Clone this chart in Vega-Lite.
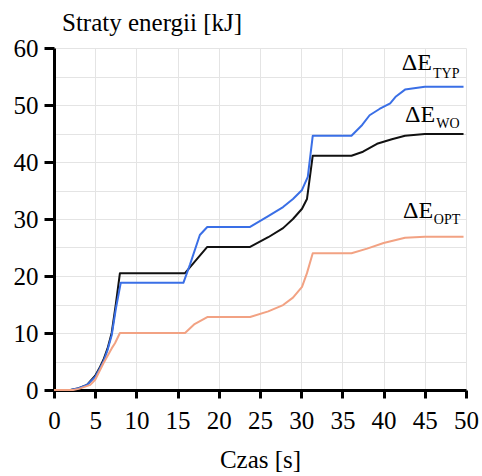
{
  "$schema": "https://vega.github.io/schema/vega-lite/v6.json",
  "width": 412,
  "height": 342,
  "autosize": "none",
  "padding": {"left": 54, "top": 48, "right": 16, "bottom": 86},
  "background": "white",
  "config": {"view": {"stroke": null}, "font": "Liberation Serif, Times New Roman, serif"},
  "title": {"text": "Straty energii [kJ]", "anchor": "start", "frame": "group", "font": "Liberation Serif, Times New Roman, serif", "fontSize": 25, "fontWeight": "normal", "color": "black", "dx": 8, "dy": 12, "offset": 12},
  "datasets": {
    "lines": [
      {"t": 0, "E": 0, "s": "WO"}, {"t": 2, "E": 0, "s": "WO"}, {"t": 3, "E": 0.3, "s": "WO"}, {"t": 4, "E": 0.9, "s": "WO"}, {"t": 5, "E": 2.5, "s": "WO"}, {"t": 5.5, "E": 3.8, "s": "WO"}, {"t": 6, "E": 5.3, "s": "WO"}, {"t": 6.5, "E": 7.3, "s": "WO"}, {"t": 7, "E": 10, "s": "WO"}, {"t": 7.5, "E": 15, "s": "WO"}, {"t": 8, "E": 20.5, "s": "WO"}, {"t": 15.9, "E": 20.5, "s": "WO"}, {"t": 18.6, "E": 25.1, "s": "WO"}, {"t": 23.8, "E": 25.1, "s": "WO"}, {"t": 26, "E": 26.8, "s": "WO"}, {"t": 27.8, "E": 28.4, "s": "WO"}, {"t": 29, "E": 30, "s": "WO"}, {"t": 30.1, "E": 31.8, "s": "WO"}, {"t": 30.7, "E": 33.5, "s": "WO"}, {"t": 31.4, "E": 41.1, "s": "WO"}, {"t": 36.1, "E": 41.1, "s": "WO"}, {"t": 37.5, "E": 41.8, "s": "WO"}, {"t": 39.2, "E": 43.2, "s": "WO"}, {"t": 41, "E": 44, "s": "WO"}, {"t": 42.6, "E": 44.6, "s": "WO"}, {"t": 45, "E": 44.9, "s": "WO"}, {"t": 49.7, "E": 44.9, "s": "WO"},
      {"t": 0, "E": 0, "s": "TYP"}, {"t": 2, "E": 0, "s": "TYP"}, {"t": 3, "E": 0.3, "s": "TYP"}, {"t": 4, "E": 0.9, "s": "TYP"}, {"t": 5, "E": 2.3, "s": "TYP"}, {"t": 5.5, "E": 3.6, "s": "TYP"}, {"t": 6, "E": 5.0, "s": "TYP"}, {"t": 6.5, "E": 7.0, "s": "TYP"}, {"t": 7, "E": 9.6, "s": "TYP"}, {"t": 7.5, "E": 14.2, "s": "TYP"}, {"t": 8.1, "E": 18.8, "s": "TYP"}, {"t": 15.7, "E": 18.8, "s": "TYP"}, {"t": 16.5, "E": 22, "s": "TYP"}, {"t": 17.7, "E": 27.2, "s": "TYP"}, {"t": 18.6, "E": 28.6, "s": "TYP"}, {"t": 23.8, "E": 28.6, "s": "TYP"}, {"t": 26, "E": 30.5, "s": "TYP"}, {"t": 27.8, "E": 32.1, "s": "TYP"}, {"t": 29, "E": 33.5, "s": "TYP"}, {"t": 30.1, "E": 35.1, "s": "TYP"}, {"t": 30.8, "E": 37.4, "s": "TYP"}, {"t": 31.4, "E": 44.6, "s": "TYP"}, {"t": 36.1, "E": 44.6, "s": "TYP"}, {"t": 37.4, "E": 46.5, "s": "TYP"}, {"t": 38.3, "E": 48.2, "s": "TYP"}, {"t": 39.5, "E": 49.3, "s": "TYP"}, {"t": 40.8, "E": 50.3, "s": "TYP"}, {"t": 41.5, "E": 51.5, "s": "TYP"}, {"t": 42.6, "E": 52.7, "s": "TYP"}, {"t": 45, "E": 53.2, "s": "TYP"}, {"t": 49.7, "E": 53.2, "s": "TYP"},
      {"t": 0, "E": 0, "s": "OPT"}, {"t": 2.3, "E": 0, "s": "OPT"}, {"t": 3, "E": 0.2, "s": "OPT"}, {"t": 4.4, "E": 0.9, "s": "OPT"}, {"t": 5, "E": 1.8, "s": "OPT"}, {"t": 6, "E": 4.7, "s": "OPT"}, {"t": 7, "E": 7.3, "s": "OPT"}, {"t": 7.4, "E": 8.2, "s": "OPT"}, {"t": 8, "E": 10, "s": "OPT"}, {"t": 15.9, "E": 10, "s": "OPT"}, {"t": 17, "E": 11.5, "s": "OPT"}, {"t": 18.6, "E": 12.8, "s": "OPT"}, {"t": 23.8, "E": 12.8, "s": "OPT"}, {"t": 26, "E": 13.8, "s": "OPT"}, {"t": 27.8, "E": 14.9, "s": "OPT"}, {"t": 29, "E": 16.2, "s": "OPT"}, {"t": 30.1, "E": 18.1, "s": "OPT"}, {"t": 30.7, "E": 20.5, "s": "OPT"}, {"t": 31.4, "E": 24, "s": "OPT"}, {"t": 36.1, "E": 24, "s": "OPT"}, {"t": 38, "E": 24.8, "s": "OPT"}, {"t": 40, "E": 25.8, "s": "OPT"}, {"t": 42.6, "E": 26.7, "s": "OPT"}, {"t": 45, "E": 26.9, "s": "OPT"}, {"t": 49.7, "E": 26.9, "s": "OPT"}
    ],
    "mainLabels": [
      {"t": 42.2, "E": 56.1, "txt": "ΔE"},
      {"t": 42.6, "E": 47.0, "txt": "ΔE"},
      {"t": 42.35, "E": 30.2, "txt": "ΔE"}
    ],
    "subLabels": [
      {"t": 46.0, "E": 54.8, "txt": "TYP"},
      {"t": 46.4, "E": 46.0, "txt": "WO"},
      {"t": 46.1, "E": 29.1, "txt": "OPT"}
    ]
  },
  "encoding": {
    "x": {"field": "t", "type": "quantitative", "scale": {"domain": [0, 50], "nice": false},
      "axis": {"values": [0, 5, 10, 15, 20, 25, 30, 35, 40, 45, 50], "grid": true, "gridColor": "#e4e4e4", "gridWidth": 1,
        "domainColor": "black", "domainWidth": 3, "tickColor": "black", "tickWidth": 3, "tickSize": 8,
        "labelFont": "Liberation Serif, Times New Roman, serif", "labelFontSize": 25, "labelColor": "black", "labelPadding": 10, "labelFlush": false,
        "title": "Czas [s]", "titleFont": "Liberation Serif, Times New Roman, serif", "titleFontSize": 25, "titleFontWeight": "normal", "titleColor": "black", "titlePadding": 14}},
    "y": {"field": "E", "type": "quantitative", "scale": {"domain": [0, 60], "nice": false},
      "axis": {"values": [0, 5, 10, 15, 20, 25, 30, 35, 40, 45, 50, 55, 60], "grid": true, "gridColor": "#e4e4e4", "gridWidth": 1,
        "domainColor": "black", "domainWidth": 3, "tickColor": "black", "tickWidth": 3, "tickSize": 10,
        "tickOpacity": {"condition": {"test": "datum.value % 10 !== 0", "value": 0}, "value": 1},
        "labelExpr": "datum.value % 10 === 0 ? datum.label : ''",
        "labelFont": "Liberation Serif, Times New Roman, serif", "labelFontSize": 25, "labelColor": "black", "labelPadding": 6, "labelFlush": false,
        "title": null}}
  },
  "layer": [
    {"data": {"name": "lines"},
     "mark": {"type": "line", "strokeWidth": 2, "strokeJoin": "round"},
     "encoding": {
       "color": {"field": "s", "type": "nominal", "legend": null,
         "scale": {"domain": ["TYP", "WO", "OPT"], "range": ["#3a6fe6", "#111111", "#f2a283"]}},
       "order": {"field": "t"}
     }},
    {"data": {"name": "mainLabels"},
     "mark": {"type": "text", "align": "left", "baseline": "alphabetic", "font": "Liberation Serif, Times New Roman, serif", "fontSize": 24, "color": "black"},
     "encoding": {"text": {"field": "txt"}}},
    {"data": {"name": "subLabels"},
     "mark": {"type": "text", "align": "left", "baseline": "alphabetic", "font": "Liberation Serif, Times New Roman, serif", "fontSize": 14, "color": "black"},
     "encoding": {"text": {"field": "txt"}}}
  ]
}
